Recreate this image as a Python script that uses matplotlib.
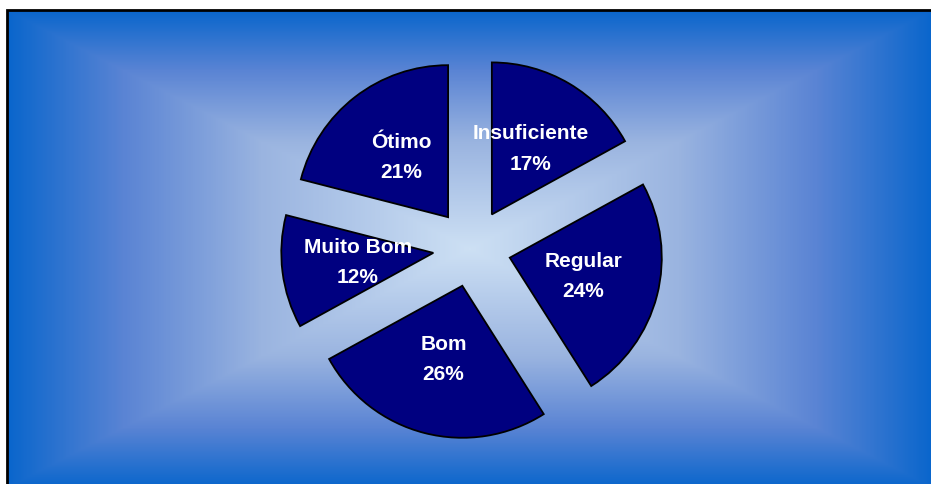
import numpy as np
import matplotlib
matplotlib.use('Agg')
import matplotlib.pyplot as plt
from matplotlib.colors import LinearSegmentedColormap
from matplotlib.patches import Rectangle

# data, clockwise from 12 o'clock
labels = ['Insuficiente', 'Regular', 'Bom', 'Muito Bom', 'Ótimo']
values = [17, 24, 26, 12, 21]

W, H = 931, 484

fig = plt.figure(figsize=(W / 100, H / 100), dpi=100)
ax = fig.add_axes([0, 0, 1, 1])

# rectangular "from center" gradient like Excel's fill
x0, x1, y0, y1 = 7, 933, -4, 474
gx = np.linspace(-1, 1, 600)
gy = np.linspace(-1, 1, 320)
XX, YY = np.meshgrid(gx, gy)
t = np.maximum(np.abs(XX), np.abs(YY))
cmap = LinearSegmentedColormap.from_list(
    'bg', [(0.0, '#cde0f4'), (0.45, '#9ab4e0'), (0.75, '#5a84d4'), (1.0, '#0a66cc')])
ax.imshow(t, cmap=cmap, vmin=0, vmax=1, extent=(x0, x1, y0, y1),
          aspect='auto', interpolation='bilinear', zorder=0)
ax.add_patch(Rectangle((x0, y0), x1 - x0, y1 - y0, fill=False,
                       edgecolor='black', linewidth=2, zorder=1))

r = 152
texts = ax.pie(values,
               labels=[f'{l}\n{v}%' for l, v in zip(labels, values)],
               explode=[39] * len(values), radius=r, center=(472, 236),
               startangle=90, counterclock=False, labeldistance=0.5,
               wedgeprops=dict(facecolor='#000080', edgecolor='black',
                               linewidth=1.3, zorder=2),
               textprops=dict(color='white', fontsize=15, fontweight='bold',
                              family='Liberation Sans', linespacing=1.75,
                              zorder=3),
               frame=True)[1]
for tx in texts:
    tx.set_ha('center')
    tx.set_va('center')
    tx.set_multialignment('center')

ax.set_xlim(0, W)
ax.set_ylim(0, H)
ax.set_aspect('auto')
ax.axis('off')

fig.savefig('out.png', dpi=100, facecolor='white')
